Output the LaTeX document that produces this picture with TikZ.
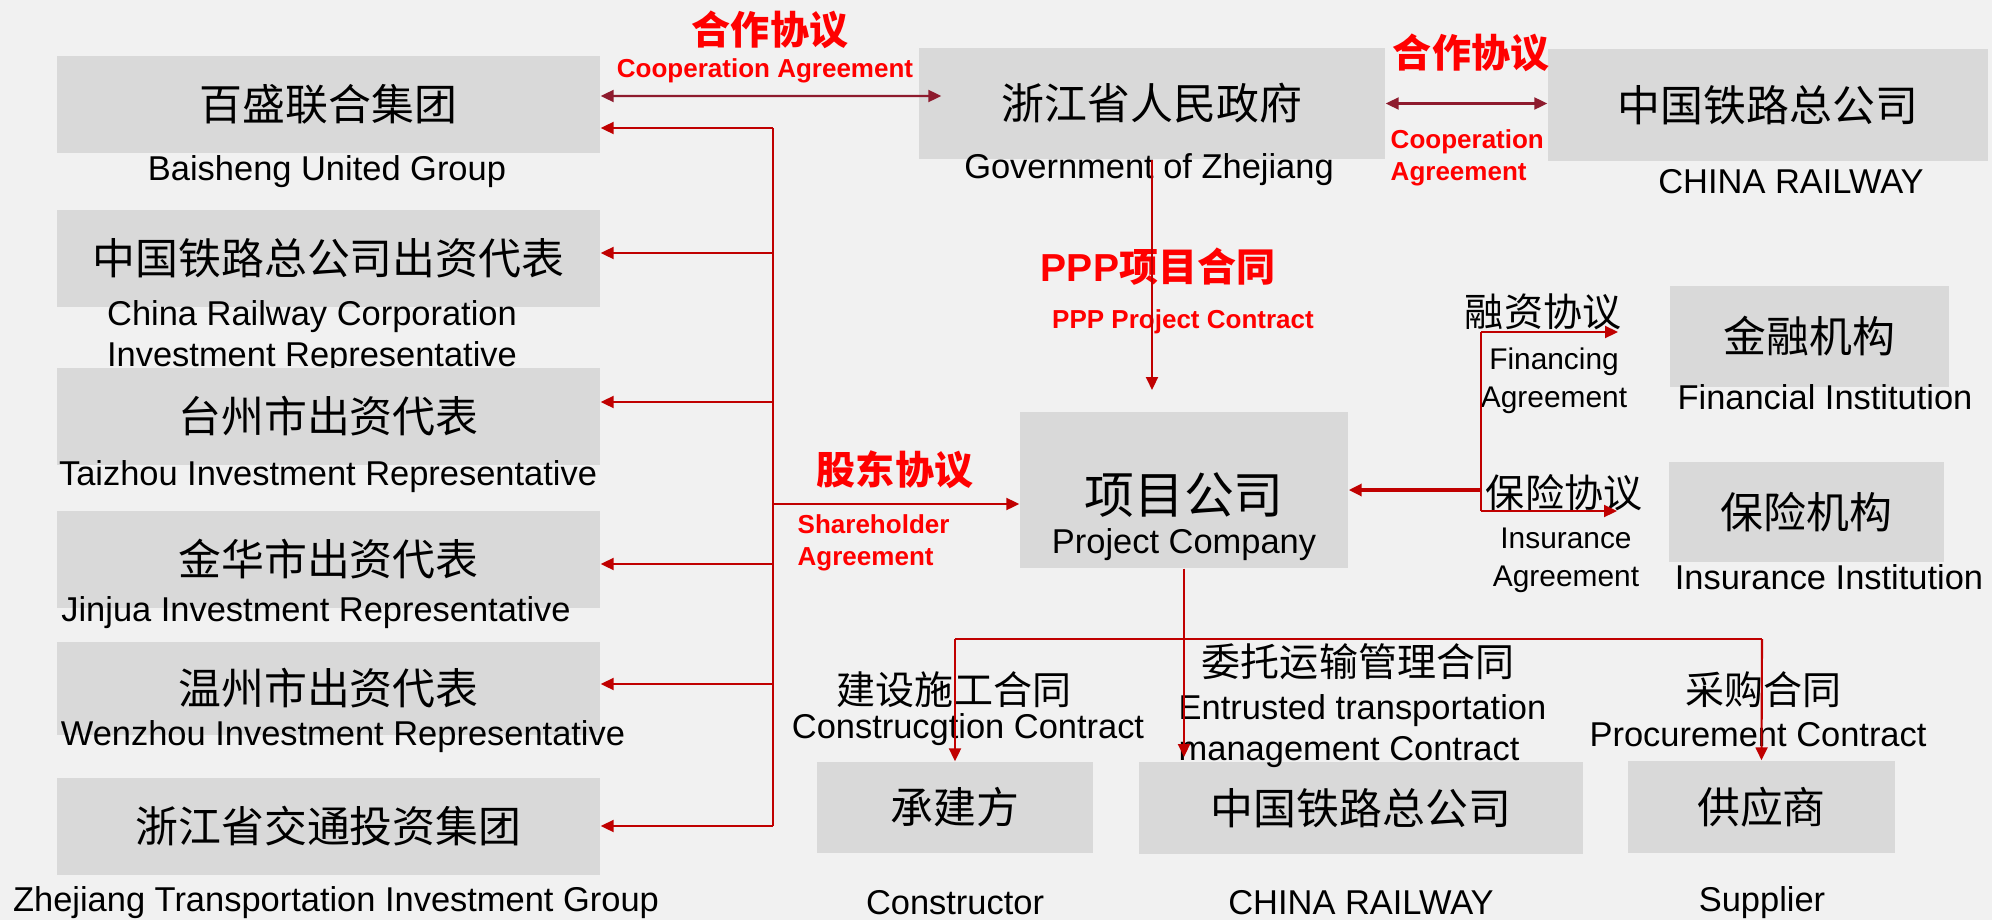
\documentclass[tikz,border=0pt]{standalone}
\usepackage{fontspec}
\setmainfont{Liberation Sans}
\newfontfamily\cjk{Noto Sans CJK SC}
\usetikzlibrary{arrows.meta}
\definecolor{boxgray}{HTML}{D9D9D9}
\definecolor{bggray}{HTML}{F1F1F1}
\definecolor{linered}{HTML}{C00000}
\definecolor{darkred}{HTML}{8E1B2E}
\definecolor{textred}{HTML}{FF0000}
\tikzset{
  box/.style={fill=boxgray, inner sep=0pt, font=\cjk\fontsize{12.2}{14}\selectfont},
  leftbox/.style={box, minimum width=5.43cm, minimum height=0.97cm},
  lab/.style={inner sep=0pt, font=\fontsize{9.8}{11.7}\selectfont, align=center},
  cnlab/.style={inner sep=0pt, font=\cjk\fontsize{11.1}{13}\selectfont},
  smlab/.style={inner sep=0pt, font=\fontsize{8.5}{10.8}\selectfont, align=center},
  redcn/.style={inner sep=0pt, text=textred, font=\cjk\bfseries\fontsize{11.1}{13}\selectfont},
  reden/.style={inner sep=0pt, text=textred, font=\bfseries\fontsize{7.4}{9.1}\selectfont, align=left},
  arr/.style={-{Triangle[length=0.13cm, width=0.12cm]}, linered, line width=0.6pt},
  coop/.style={{Triangle[length=0.13cm, width=0.12cm]}-{Triangle[length=0.13cm, width=0.12cm]}, darkred, line width=0.6pt},
}
\begin{document}
\begin{tikzpicture}
    \fill[bggray] (0,0) rectangle (19.92,9.2);

    % shareholders
    \node[leftbox] (bs) at (3.285, 8.155) {百盛联合集团};
    \node[lab] (bsen) at (3.27, 7.48) {Baisheng United Group};
    \node[leftbox] (crrep) at (3.285, 6.615) {中国铁路总公司出资代表};
    \node[lab, align=left] (crrepen) at (3.12, 5.825) {China Railway Corporation\\Investment Representative};
    \node[leftbox] (tz) at (3.285, 5.035) {台州市出资代表};
    \node[lab] (tzen) at (3.28, 4.43) {Taizhou Investment Representative};
    \node[leftbox] (jh) at (3.285, 3.605) {金华市出资代表};
    \node[lab] (jhen) at (3.16, 3.07) {Jinjua Investment Representative};
    \node[leftbox, minimum height=0.93cm] (wz) at (3.285, 2.315) {温州市出资代表};
    \node[lab] (wzen) at (3.43, 1.83) {Wenzhou Investment Representative};
    \node[leftbox] (zjt) at (3.285, 0.94) {浙江省交通投资集团};
    \node[lab] (zjten) at (3.36, 0.17) {Zhejiang Transportation Investment Group};

    % top row
    \node[box, minimum width=4.66cm, minimum height=1.11cm] (gov) at (11.52, 8.165) {浙江省人民政府};
    \node[lab] (goven) at (11.49, 7.50) {Government of Zhejiang};
    \node[box, minimum width=4.40cm, minimum height=1.12cm] (crtop) at (17.68, 8.15) {中国铁路总公司};
    \node[lab] (crtopen) at (17.91, 7.38) {CHINA RAILWAY};
    \node[redcn] (coop1) at (7.70, 8.90) {合作协议};
    \node[reden] (coop1en) at (7.65, 8.49) {Cooperation Agreement};
    \node[redcn] (coop2) at (14.71, 8.67) {合作协议};
    \node[reden, anchor=west] (coop2en) at (13.90, 7.62) {Cooperation\\Agreement};
    \node[redcn] (ppp) at (11.58, 6.53) {{\rmfamily PPP}项目合同};
    \node[reden] (pppen) at (11.83, 5.98) {PPP Project Contract};

    % project company
    \node[box, minimum width=3.28cm, minimum height=1.56cm] (pc) at (11.84, 4.30) {};
    \node[inner sep=0pt, font=\cjk\fontsize{14.2}{16}\selectfont] (pccn) at (11.84, 4.25) {项目公司};
    \node[lab] (pcen) at (11.84, 3.75) {Project Company};
    \node[redcn] (sha) at (8.95, 4.50) {股东协议};
    \node[reden, anchor=west] (shaen) at (7.97, 3.77) {Shareholder\\Agreement};

    % finance and insurance
    \node[box, minimum width=2.79cm, minimum height=1.01cm] (fin) at (18.095, 5.835) {金融机构};
    \node[lab] (finen) at (18.25, 5.23) {Financial Institution};
    \node[box, minimum width=2.75cm, minimum height=1.0cm] (ins) at (18.065, 4.08) {保险机构};
    \node[lab] (insen) at (18.29, 3.43) {Insurance Institution};
    \node[cnlab] (fincn) at (15.43, 6.08) {融资协议};
    \node[smlab] (finag) at (15.54, 5.39) {Financing\\Agreement};
    \node[cnlab] (inscn) at (15.64, 4.27) {保险协议};
    \node[smlab] (insag) at (15.66, 3.60) {Insurance\\Agreement};

    % contractors
    \node[box, minimum width=2.76cm, minimum height=0.91cm] (con) at (9.55, 1.125) {承建方};
    \node[box, minimum width=4.44cm, minimum height=0.92cm] (crbot) at (13.61, 1.12) {中国铁路总公司};
    \node[box, minimum width=2.67cm, minimum height=0.92cm] (sup) at (17.615, 1.13) {供应商};
    \node[lab] (conen) at (9.55, 0.17) {Constructor};
    \node[lab] (crboten) at (13.61, 0.17) {CHINA RAILWAY};
    \node[lab] (supen) at (17.62, 0.17) {Supplier};
    \node[cnlab] (concn) at (9.54, 2.30) {建设施工合同};
    \node[lab] (conct) at (9.68, 1.90) {Construcgtion Contract};
    \node[cnlab] (crcn) at (13.58, 2.58) {委托运输管理合同};
    \node[lab, anchor=west, align=left] (crct) at (11.78, 1.885) {Entrusted transportation\\management Contract};
    \node[cnlab] (supcn) at (17.63, 2.30) {采购合同};
    \node[lab] (supct) at (17.58, 1.85) {Procurement Contract};

    % cooperation
    \draw[coop] ([yshift=0.085cm]bs.east) -- ([xshift=0.23cm, yshift=0.075cm]gov.west);
    \draw[coop] (gov.east) -- (gov.east -| crtop.west);

    % shareholder agreement
    \coordinate (stop) at (7.73, 7.92);
    \coordinate (sbot) at (7.73, 0.94);
    \draw[linered, line width=0.5pt] (stop) -- (sbot);
    \foreach \y/\n in {7.92/bs, 6.67/crrep, 5.18/tz, 3.56/jh, 2.36/wz, 0.94/zjt} {
        \coordinate (s\n) at (7.73, \y);
        \draw[arr] (s\n) -- (s\n -| \n.east);
    }
    \coordinate (spc) at (7.73, 4.16);
    \draw[arr] (spc) -- (spc -| pc.west);

    % PPP contract
    \coordinate (ppptip) at (11.52, 5.30);
    \draw[arr] (gov.south) -- (ppptip);

    % financing, insurance
    \coordinate (rtop) at (14.81, 5.88);
    \coordinate (rbot) at (14.81, 4.09);
    \coordinate (rpc) at (14.81, 4.30);
    \coordinate (fintip) at (16.18, 5.88);
    \coordinate (instip) at (16.17, 4.09);
    \draw[linered, line width=0.5pt] (rtop) -- (rbot);
    \draw[arr] (rtop) -- (fintip);
    \draw[arr] (rbot) -- (instip);
    \draw[arr, line width=0.9pt] (rpc) -- (rpc -| pc.east);

    % contracts
    \coordinate (bl) at (9.55, 2.81);
    \coordinate (br) at (17.62, 2.81);
    \coordinate (crtip) at (11.84, 1.63);
    \draw[linered, line width=0.5pt] (bl) -- (br);
    \draw[arr] (pc.south) -- (crtip);
    \draw[arr] (bl) -- (con.north);
    \draw[arr] (br) -- (sup.north);
\end{tikzpicture}
\end{document}
